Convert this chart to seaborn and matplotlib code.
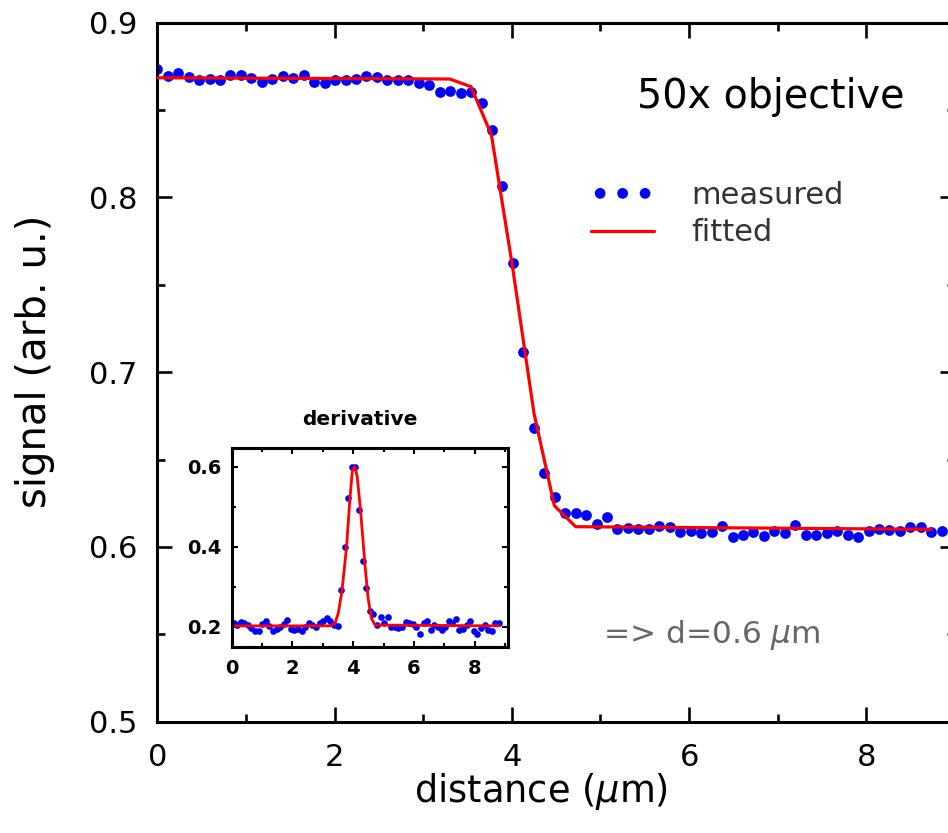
import numpy as np
import pandas as pd
import matplotlib
matplotlib.use("Agg")
import matplotlib.pyplot as plt
from matplotlib.ticker import MultipleLocator
import seaborn as sns

# ---------------- data ----------------
x_step = 0.118  # sampling step of the measured profile (um)
y_meas = [0.8735, 0.8697, 0.8710, 0.8691, 0.8674, 0.8676, 0.8674, 0.8701, 0.8701, 0.8682,
          0.8663, 0.8678, 0.8693, 0.8684, 0.8701, 0.8663, 0.8653, 0.8674, 0.8670, 0.8676,
          0.8695, 0.8688, 0.8670, 0.8674, 0.8670, 0.8653, 0.8646, 0.8602, 0.8611, 0.8596,
          0.8605, 0.8539, 0.8385, 0.8066, 0.7623, 0.7117, 0.6682, 0.6425, 0.6287, 0.6196,
          0.6192, 0.6181, 0.6131, 0.6170, 0.6103, 0.6107, 0.6105, 0.6105, 0.6120, 0.6116,
          0.6087, 0.6090, 0.6078, 0.6088, 0.6122, 0.6059, 0.6068, 0.6088, 0.6063, 0.6093,
          0.6078, 0.6127, 0.6070, 0.6068, 0.6082, 0.6093, 0.6068, 0.6059, 0.6093, 0.6103,
          0.6097, 0.6093, 0.6113, 0.6116, 0.6087, 0.6091]
x_meas = np.arange(len(y_meas)) * x_step

fit_x = [0.0, 3.30, 3.54, 3.77, 4.01, 4.25, 4.48, 4.72, 8.73]
fit_y = [0.8685, 0.8678, 0.8634, 0.8357, 0.7596, 0.6765, 0.6236, 0.6116, 0.6101]

# derivative (inset)
d_start = 0.06
y_deriv = [0.210, 0.205, 0.212, 0.208, 0.205, 0.197, 0.190, 0.190, 0.207, 0.213,
           0.202, 0.188, 0.193, 0.200, 0.206, 0.217, 0.193, 0.192, 0.193, 0.189,
           0.200, 0.210, 0.204, 0.198, 0.208, 0.214, 0.221, 0.214, 0.203, 0.201,
           0.292, 0.398, 0.521, 0.600, 0.598, 0.492, 0.364, 0.296, 0.239, 0.231,
           0.205, 0.225, 0.210, 0.225, 0.198, 0.198, 0.196, 0.198, 0.212, 0.208,
           0.207, 0.200, 0.182, 0.210, 0.215, 0.192, 0.203, 0.200, 0.191, 0.198,
           0.213, 0.208, 0.218, 0.192, 0.193, 0.205, 0.214, 0.188, 0.181, 0.197,
           0.204, 0.192, 0.190, 0.208, 0.210]
x_deriv = d_start + np.arange(len(y_deriv)) * x_step

dfit_x = [0.11, 3.23, 3.40, 3.51, 3.63, 3.78, 3.89, 3.97, 4.05, 4.13, 4.24, 4.38, 4.49, 4.60, 4.72, 8.80]
dfit_y = [0.202, 0.202, 0.208, 0.235, 0.290, 0.400, 0.520, 0.590, 0.600, 0.575, 0.490, 0.360, 0.270, 0.220, 0.204, 0.202]

main_xticks = [0, 2, 4, 6, 8]
main_yticks = [0.5, 0.6, 0.7, 0.8, 0.9]
inset_xticks = [0, 2, 4, 6, 8]
inset_xlabels = ["0", "2", "4", "6", "8"]
inset_yticks = [0.2, 0.4, 0.6]
inset_ylabels = ["0.2", "0.4", "0.6"]

# ---------------- style ----------------
sns.set_style("ticks")
plt.rcParams["font.family"] = ["DejaVu Sans"]
plt.rcParams["mathtext.fontset"] = "dejavusans"
plt.rcParams["text.color"] = "black"
plt.rcParams["axes.labelcolor"] = "black"
plt.rcParams["xtick.color"] = "black"
plt.rcParams["ytick.color"] = "black"
plt.rcParams["xtick.labelcolor"] = "black"
plt.rcParams["ytick.labelcolor"] = "black"

fig = plt.figure(figsize=(9.48, 8.33), dpi=100)
ax = fig.add_axes([0.1659, 0.1336, 0.8415, 0.8391])

sns.scatterplot(x=x_meas, y=y_meas, ax=ax, color="#0000ff", s=60, linewidth=0,
                label="measured", zorder=2)
sns.lineplot(x=fit_x, y=fit_y, ax=ax, color="#ff0000", linewidth=2.3,
             label="fitted", zorder=3)

ax.set_xlim(0, 9)
ax.set_ylim(0.5, 0.9)
ax.set_xticks(main_xticks)
ax.set_yticks(main_yticks)
ax.xaxis.set_minor_locator(MultipleLocator(1))
ax.yaxis.set_minor_locator(MultipleLocator(0.05))
ax.tick_params(which="both", direction="in", top=True, right=True, width=1.9,
               colors="black", labelcolor="black")
ax.tick_params(which="major", length=10.8)
ax.tick_params(which="minor", length=5.5)
ax.tick_params(axis="y", labelsize=22, pad=14)
ax.tick_params(axis="x", labelsize=22, pad=15)
for sp in ax.spines.values():
    sp.set_linewidth(2.2)
    sp.set_color("black")

ax.set_xlabel("distance ($\\mu$m)", fontsize=26.5, color="black")
ax.xaxis.set_label_coords(0.481, -0.070)
ax.set_ylabel("signal (arb. u.)", fontsize=29, color="black")
ax.yaxis.set_label_coords(-0.128, 0.515)

leg = ax.legend(loc="upper left", bbox_to_anchor=(0.5437, 0.7735), frameon=False,
                fontsize=22, scatterpoints=3, scatteryoffsets=[0.5], handlelength=2.07,
                handletextpad=1.2, labelspacing=0.27, borderpad=0, borderaxespad=0)
for t in leg.get_texts():
    t.set_color("#333333")

ax.text(0.6017, 0.878, "50x objective", transform=ax.transAxes, fontsize=28.5,
        ha="left", va="baseline", color="black")
ax.text(0.5587, 0.124, "=> d=0.6 $\\mu$m", transform=ax.transAxes, fontsize=22.5,
        ha="left", va="center", color="#666666")

# ---------------- inset ----------------
axi = fig.add_axes([0.2444, 0.2237, 0.2911, 0.2389])
sns.scatterplot(x=x_deriv, y=y_deriv, ax=axi, color="#0000ff", s=23, linewidth=0,
                zorder=2, legend=False)
sns.lineplot(x=dfit_x, y=dfit_y, ax=axi, color="#ff0000", linewidth=2.0, zorder=3,
             legend=False)
axi.set_xlim(0, 9.08)
axi.set_ylim(0.15, 0.6475)
axi.set_xticks(inset_xticks, labels=inset_xlabels, fontweight="bold", fontsize=14)
axi.set_yticks(inset_yticks, labels=inset_ylabels, fontweight="bold", fontsize=14)
axi.xaxis.set_minor_locator(MultipleLocator(1))
axi.yaxis.set_minor_locator(MultipleLocator(0.1))
axi.tick_params(which="both", direction="in", top=True, right=True, width=1.5,
                colors="black", labelcolor="black")
axi.tick_params(which="major", length=4.5)
axi.tick_params(which="minor", length=3.0)
axi.tick_params(axis="y", pad=7)
axi.tick_params(axis="x", pad=9)
for sp in axi.spines.values():
    sp.set_linewidth(2.2)
    sp.set_color("black")
axi.set_xlabel("")
axi.set_ylabel("")
axi.text(0.465, 1.139, "derivative", transform=axi.transAxes, fontsize=14.5,
         fontweight="bold", ha="center", va="center", color="black")

fig.savefig("out.png", dpi=100)
